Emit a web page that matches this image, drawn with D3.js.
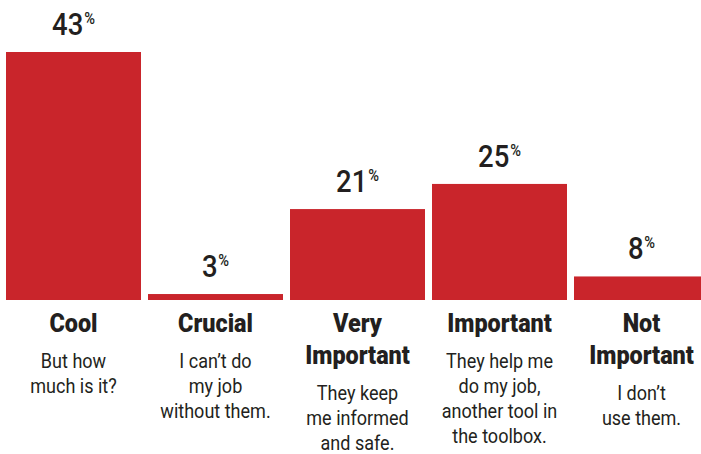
<!DOCTYPE html>
<html>
<head>
<meta charset="utf-8">
<script src="https://cdn.jsdelivr.net/npm/d3@7"></script>
<style>
  html, body { margin: 0; padding: 0; background: #fff; }
  svg { display: block; }
  text { font-family: "Roboto", "Liberation Sans", sans-serif; fill: #231f20; }
</style>
</head>
<body>
<svg id="chart" width="701" height="454"></svg>
<script>
// Survey answers: category titles, their short descriptions, and share of responses
const categories = ["Cool", "Crucial", "Very Important", "Important", "Not Important"];
const titleLines = [
  ["Cool"],
  ["Crucial"],
  ["Very", "Important"],
  ["Important"],
  ["Not", "Important"]
];
const descriptions = [
  ["But how", "much is it?"],
  ["I can\u2019t do", "my job", "without them."],
  ["They keep", "me informed", "and safe."],
  ["They help me", "do my job,", "another tool in", "the toolbox."],
  ["I don\u2019t", "use them."]
];
const values = [43, 3, 21, 25, 8];

const baseline = 300;
const svg = d3.select("#chart");

const x = d3.scaleBand()
  .domain(categories)
  .range([6, 709])
  .paddingInner(7 / 142)
  .paddingOuter(0);

const y = d3.scalePow()
  .exponent(1.4)
  .domain([0, 43])
  .range([baseline, 52]);

const red = "#c9252b";
const ink = "#231f20";

const g = svg.append("g");

// bars
g.selectAll("rect.bar")
  .data(categories)
  .join("rect")
  .attr("class", "bar")
  .attr("x", d => x(d))
  .attr("y", (d, i) => y(values[i]))
  .attr("width", x.bandwidth())
  .attr("height", (d, i) => baseline - y(values[i]))
  .attr("fill", red);

// condensed text: centred at (cx, cy), squeezed horizontally
function narrowText(parent, cx, cy, sx) {
  return parent.append("text")
    .attr("transform", `translate(${cx},${cy}) scale(${sx},1)`)
    .attr("text-anchor", "middle");
}

// value labels with a raised percent sign
categories.forEach((c, i) => {
  const cx = x(c) + x.bandwidth() / 2;
  const t = narrowText(g, cx, y(values[i]) - 17, 0.86)
    .attr("font-weight", 500);
  t.append("tspan").attr("font-size", 32).text(values[i]);
  t.append("tspan")
    .attr("font-size", 17)
    .attr("dx", 1)
    .attr("dy", -11)
    .text("%");
});

// category titles and descriptions under the baseline
categories.forEach((c, i) => {
  const cx = x(c) + x.bandwidth() / 2;
  const t = titleLines[i];
  t.forEach((line, j) => {
    narrowText(g, cx, 332 + j * 32, 0.9)
      .attr("font-size", 26)
      .attr("font-weight", 900)
      .text(line);
  });
  const start = 332 + (t.length - 1) * 32 + 36;
  descriptions[i].forEach((line, j) => {
    narrowText(g, cx, start + j * 25, 0.88)
      .attr("font-size", 20.5)
      .text(line);
  });
});
</script>
</body>
</html>
